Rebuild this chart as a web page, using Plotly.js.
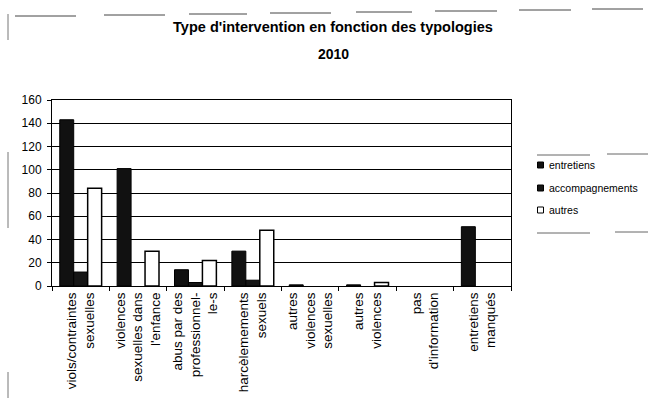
<!DOCTYPE html>
<html>
<head>
<meta charset="utf-8">
<script src="https://cdn.plot.ly/plotly-3.0.1.min.js"></script>
<style>html,body{margin:0;padding:0;background:#fff;}#chart{width:648px;height:401px;}</style>
</head>
<body>
<div id="chart"></div>
<script>
// Data
const categories = [
  "viols/contraintes<br>sexuelles",
  "violences<br>sexuelles dans<br>l'enfance",
  "abus par des<br>professionnel-<br>le-s",
  "harcèlemements<br>sexuels",
  "autres<br>violences<br>sexuelles",
  "autres<br>violences",
  "pas<br>d'information",
  "entretiens<br>manqués"
];
const entretiens      = [143, 101, 14, 30, 1, 1, 0, 51];
const accompagnements = [12, 0, 3, 5, 0, 0, 0, 0];
const autres          = [84, 30, 22, 48, 0, 3, 0, 0];
const seriesNames = ["entretiens", "accompagnements", "autres"];
const seriesFill  = ["#111111", "#161616", "#ffffff"];
const yTicks = [0, 20, 40, 60, 80, 100, 120, 140, 160];
const titleLine1 = "Type d'intervention en fonction des typologies";
const titleLine2 = "2010";

const FONT = "Liberation Sans, Arial, sans-serif";

function barTrace(i, vals, lw) {
  return {type: "bar", name: seriesNames[i], x: categories, y: vals, showlegend: false,
          marker: {color: seriesFill[i], line: {color: "#000", width: vals.map(v => v ? lw : 0)}}};
}
const traces = [
  barTrace(0, entretiens, 1),
  barTrace(1, accompagnements, 1),
  barTrace(2, autres, 1.5)
];

// pixel -> paper helpers (plot area box)
const L = 52, R = 511, T = 100, B = 286;
const px = v => (v - L) / (R - L);
const py = v => (B - v) / (B - T);
function seg(x0, y0, x1, y1, w, c) {
  return {type: "line", xref: "paper", yref: "paper", x0: px(x0), y0: py(y0), x1: px(x1), y1: py(y1),
          line: {color: c || "#444", width: w || 1}};
}
// decorative scan-border fragments
const shapes = [
  seg(15, 16, 76, 16), seg(104, 15, 165, 15), seg(189, 14, 247, 14), seg(270, 13, 331, 13),
  seg(356, 12, 412, 12), seg(435, 11, 497, 11), seg(519, 10, 571, 10), seg(592, 9, 643, 9),
  seg(8, 14, 8, 40, 1, "#777"), seg(8, 152, 8, 228, 1, "#777"), seg(8, 372, 8, 398, 1, "#777"),
  seg(537, 155, 590, 155, 1, "#666"), seg(607, 154, 648, 154, 1, "#666"),
  seg(537, 233, 590, 233, 1, "#666"), seg(615, 232, 648, 232, 1, "#666")
];

// custom legend (small squares + labels)
const legendY = [165, 188, 210];
const annotations = [];
seriesNames.forEach((n, i) => {
  shapes.push({type: "rect", xref: "paper", yref: "paper",
    x0: px(537.5), x1: px(543.5), y0: py(legendY[i] + 3), y1: py(legendY[i] - 3),
    fillcolor: seriesFill[i], line: {color: "#000", width: 1}});
  annotations.push({xref: "paper", yref: "paper", x: px(547), y: py(legendY[i]),
    xanchor: "left", yanchor: "middle", text: n, showarrow: false,
    font: {family: FONT, size: 10.5, color: "#000"}});
});
annotations.push({xref: "paper", yref: "paper", x: px(333), y: py(54), xanchor: "center", yanchor: "middle",
  text: "<b>" + titleLine2 + "</b>", showarrow: false, font: {family: FONT, size: 14, color: "#000"}});

const layout = {
  width: 648, height: 401,
  margin: {l: L, r: 648 - R, t: T, b: 401 - B},
  paper_bgcolor: "#fff", plot_bgcolor: "#fff",
  font: {family: FONT, color: "#000", size: 11},
  title: {text: "<b>" + titleLine1 + "</b>",
          font: {family: FONT, size: 14.5, color: "#000"},
          xref: "paper", x: px(333), xanchor: "center", yref: "container", y: 1 - 26.5/401, yanchor: "middle"},
  barmode: "group", bargap: 0.27, bargroupgap: 0,
  showlegend: false,
  xaxis: {type: "category", tickangle: -90, showline: true, linecolor: "#000", linewidth: 1,
          mirror: true, ticks: "outside", tickson: "boundaries", ticklen: 4, tickcolor: "#000",
          tickfont: {family: FONT, size: 13.5, color: "#000"}, showgrid: false, zeroline: false,
          fixedrange: true},
  yaxis: {range: [0, 160], tickvals: yTicks, showline: true, linecolor: "#000", linewidth: 1,
          mirror: true, ticks: "outside", ticklen: 4, tickcolor: "#000", ticklabelstandoff: 3,
          showgrid: true, gridcolor: "#000", gridwidth: 1, zeroline: false,
          tickfont: {family: FONT, size: 12, color: "#000"}, fixedrange: true},
  shapes: shapes,
  annotations: annotations
};

Plotly.newPlot("chart", traces, layout, {staticPlot: true, displayModeBar: false});
</script>
</body>
</html>
